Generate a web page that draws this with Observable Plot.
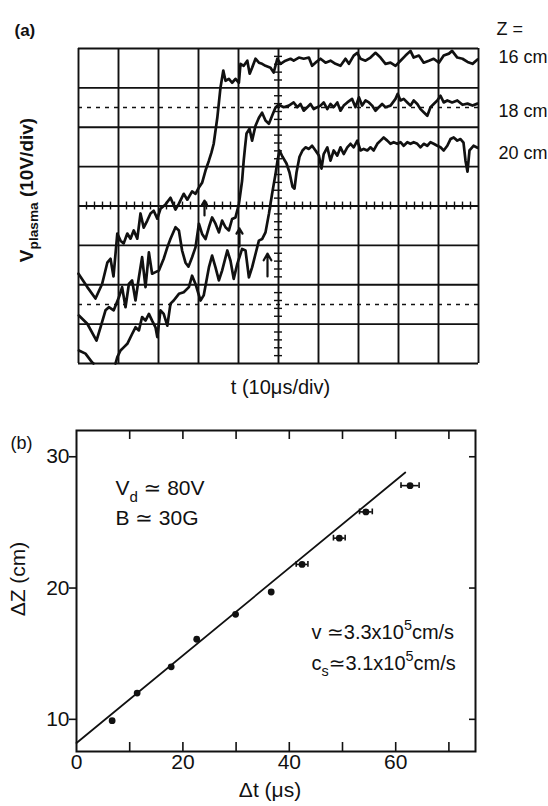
<!DOCTYPE html>
<html>
<head>
<meta charset="utf-8">
<script src="https://cdn.jsdelivr.net/npm/d3@7"></script>
<script src="https://cdn.jsdelivr.net/npm/@observablehq/plot@0.6"></script>
<style>
  html, body { margin: 0; padding: 0; background: #fff; }
  #chart svg { display: block; }
</style>
</head>
<body>
<div id="chart"></div>
<script>
// ---------- (a) plasma potential traces: [t (µs), V (volts above the screen bottom)] ----------
const trace16cm = [[0,22.8],[2.2,19.4],[4.25,16.5],[5.9,20.2],[7.2,25.6],[8,26.6],[8.75,22.1],[9.7,33],[10.5,31.2],[11.3,30.5],[12.2,33],[13,31.7],[13.8,33.8],[14.7,31.7],[15.5,38.1],[16.3,34.5],[17.2,36.3],[18,38.1],[18.8,38.8],[19.7,36.8],[20.5,39.3],[21.75,40.4],[23,42.1],[24.25,39.1],[25.1,40.6],[26.3,43.1],[27.2,41.6],[28.4,43.7],[29.25,43.1],[30.1,44.7],[30.9,45.9],[31.75,49],[32.6,51.5],[33.25,53.6],[33.8,55.8],[34.7,62.4],[35.5,70.1],[36.2,74.4],[36.75,71.8],[37.6,72.3],[38.4,71.3],[39.25,72.3],[40.1,71.3],[40.5,76.1],[41.3,75.6],[42.2,76.9],[42.8,73.6],[43.4,75.1],[44.25,77.4],[45.1,76.4],[45.9,76.1],[46.75,75.6],[48,75.1],[48.8,73.9],[49.7,77.4],[50.5,76.1],[51.75,76.9],[53,77.4],[53.8,76.9],[55.1,77.7],[56.3,77.4],[57.6,77.7],[58.4,75.6],[59.25,76.4],[60.5,77.4],[61.75,76.4],[63,76.9],[64.25,76.1],[65.5,75.6],[66.75,77.4],[67.6,76.1],[68.8,78.2],[69.7,78.9],[70.5,77.4],[71.75,76.9],[73,77.7],[74.25,78.9],[75.5,77.7],[76.75,76.1],[78,76.4],[79.25,75.6],[80.5,76.9],[81.75,78.2],[83,79.4],[83.8,77.7],[85.1,78.2],[86.3,76.4],[87.6,76.9],[88.8,77.4],[90.1,76.4],[91.3,78.2],[92.6,78.7],[93.4,79.4],[94.7,77.7],[96,77.4],[97.25,76.6],[98.5,76.1],[99.75,77.2]];

const trace18cm = [[0.1,12.2],[2.2,10.1],[4.5,5.8],[5.5,9.2],[6.75,13.5],[7.6,14.3],[8.8,13.5],[10.1,16.8],[10.9,19.4],[11.75,14.3],[12.6,20.2],[13.4,21.1],[14.25,16],[15.1,21.9],[15.9,27],[16.75,19.4],[17.6,28.2],[18.4,22.8],[19.25,23.2],[20.1,23.6],[21.3,26.6],[22.2,29.5],[23,31.7],[24.25,34.6],[25.1,33.8],[25.9,28.7],[26.75,25.6],[27.5,24.6],[28.4,27],[29.25,29.5],[30.1,35.5],[30.9,32.9],[31.75,31.6],[32.6,34.6],[33.4,37.1],[34.25,35.5],[35.1,33.3],[35.9,36.3],[36.75,34.6],[37.6,33.8],[38.4,36.7],[39.25,37.1],[40.1,40.5],[40.9,46.4],[41.3,51.5],[41.6,54.6],[42,58.4],[42.75,59.6],[43.4,56.6],[44.25,60.4],[45.1,62.4],[45.9,63.7],[46.75,61.7],[47.6,60.9],[48.4,62.9],[49.25,65],[50,65.7],[51.3,65.1],[52.6,65.5],[53.8,66.3],[54.7,65.1],[55.5,65.9],[56.3,64.2],[57.2,65.1],[58,65.9],[58.8,64.6],[59.7,65.1],[60.5,65.5],[61.3,66.3],[62.2,64.6],[63,65.9],[63.8,65.1],[64.7,66.3],[65.5,64.2],[66.3,65.5],[67.2,66.3],[68.4,67.2],[69.25,65.1],[70.1,67.6],[70.9,65.5],[71.75,66.8],[72.6,66.3],[73.4,65.5],[74.25,64.2],[75.1,65.1],[75.9,65.9],[76.75,65.1],[78,65.5],[79.25,67.2],[79.8,68.5],[80.5,66.8],[81.3,67.2],[82.2,66.3],[83,65.5],[83.8,66.8],[84.7,65.9],[85.5,64.6],[86.3,63.8],[87.2,62.9],[88,65.1],[88.8,65.9],[89.7,66.8],[90.5,68],[91.3,66.3],[92.2,66.8],[93.4,66.3],[94.7,66.8],[96,65.7],[97.25,66],[98.5,65.5],[99.75,66]];

// the 20 cm trace runs off the bottom of the screen for a while (NaN = break)
const trace20cm = [[0.1,3.3],[1.75,2.5],[3.4,0.3],[3.75,0],[6.5,NaN],[9.25,0],[9.7,1.6],[10.5,3.3],[11.3,4.1],[12.2,5],[13.4,7.5],[14.25,9.2],[15.1,8.4],[15.9,11.8],[16.75,10.9],[17.6,12.6],[18.4,10.9],[19.25,9.2],[19.7,6.7],[20.5,13.5],[21.3,12.6],[22.2,9.6],[23,15.2],[23.8,16],[25.1,17.7],[26.3,18.1],[27.6,19.4],[28.4,22.3],[29.25,20.2],[30.5,16],[31.3,17.3],[32.6,24.4],[33.4,27.4],[34.25,24.4],[35.1,21.1],[35.9,23.6],[37.2,28.7],[38,26.1],[38.8,21.5],[39.7,25.3],[40.9,29.1],[41.75,28.7],[42.6,21.9],[43.4,24.4],[44.25,27.8],[45.1,31.2],[45.9,31.6],[46.75,33.3],[47.6,38],[48.4,43.1],[49.25,48.1],[49.75,51.5],[50.25,54.1],[51,52.5],[52,50.8],[52.75,48.5],[53.5,44.9],[54,44.4],[54.5,48.5],[55.25,52.5],[56,54.1],[56.75,54.9],[57.6,54.5],[58.4,55.3],[59.25,54.1],[60.1,52.8],[60.75,49.5],[61.3,53.2],[62.2,54.9],[63,51.5],[63.8,54.1],[64.7,52.8],[65.5,54.9],[66.3,53.2],[67.2,54.9],[68,55.8],[68.8,54.9],[69.7,56.6],[70.5,54.1],[71.3,54.5],[72.2,54.1],[73,54.9],[73.8,54.1],[74.7,55.8],[75.5,56.6],[76.3,57.4],[77.2,56.6],[78,55.8],[78.8,56.2],[79.7,55.8],[80.5,56.2],[81.3,55.3],[82.2,56.2],[83,55.8],[83.8,56.2],[84.7,55.8],[85.5,54.9],[86.3,55.8],[87.2,55.3],[88,56.2],[88.8,55.8],[89.7,55.3],[90.5,54.9],[91.3,54.1],[92.2,55.3],[93,57],[93.8,57.4],[94.7,56.6],[95.5,57],[96.25,56.1],[96.75,51.5],[97.25,48.7],[97.75,54.1],[98.75,55.3],[99.75,54.8]];

// arrival markers (arrow tail / tip voltage at the marked time)
const arrivalT    = [31.5, 40.25, 47.25];
const arrivalFrom = [37.6, 29.7, 22.1];
const arrivalTo   = [41.4, 34.3, 27.9];

const probeLabels = ["16 cm", "18 cm", "20 cm"];
const probeLevels = [77.9, 64, 53.3];
const baselines   = [15, 65];          // dashed reference levels

// ---------- (b) time of flight vs probe separation ----------
const deltaT  = [6.7, 11.4, 17.8, 22.6, 29.9, 36.6, 42.4, 49.4, 54.4, 62.7];
const deltaZ  = [9.9, 12.0, 14.0, 16.1, 18.0, 19.7, 21.8, 23.8, 25.8, 27.8];
const tError  = [0, 0, 0, 0, 0, 0, 1.1, 1.1, 1.2, 1.7];
const fitT    = [0, 61.8];
const fitZ    = [8.2, 28.8];
const xTickLabels = [0, 20, 40, 60];
const yTickLabels = [10, 20, 30];

const FONT = "'Liberation Sans', 'DejaVu Sans', Arial, sans-serif";
const INK = "#111";

// turn _{...} and ^{...} into sub/superscript tspans
function applyScripts(svg) {
  for (const node of svg.querySelectorAll("text")) {
    const src = node.textContent;
    if (!/[_^]\{/.test(src)) continue;
    let el = node, size = NaN;
    while (el && el.getAttribute && isNaN(size)) {
      size = parseFloat(el.getAttribute("font-size"));
      el = el.parentNode;
    }
    if (isNaN(size)) size = 16;
    while (node.firstChild) node.removeChild(node.firstChild);
    const re = /([_^])\{([^}]*)\}|([^_^]+)/g;
    let m, shift = 0;
    while ((m = re.exec(src))) {
      const t = document.createElementNS("http://www.w3.org/2000/svg", "tspan");
      let target = 0;
      if (m[1]) {
        target = m[1] === "_" ? 0.3 * size : -0.42 * size;
        t.setAttribute("font-size", (0.72 * size).toFixed(1));
        t.textContent = m[2];
      } else {
        t.textContent = m[3];
      }
      if (target !== shift) { t.setAttribute("dy", (target - shift).toFixed(1)); shift = target; }
      node.appendChild(t);
    }
  }
}

const grid10 = d3.range(0, 101, 10);
const gridV = d3.range(0, 81, 10);
const minorT = d3.range(2, 100, 2).filter(d => d % 10);
const minorV = d3.range(2, 80, 2).filter(d => d % 10);

const plotA = Plot.plot({
  width: 548, height: 405,
  marginLeft: 78, marginRight: 70, marginTop: 48, marginBottom: 42,
  x: {domain: [0, 100], axis: null},
  y: {domain: [0, 80], axis: null},
  style: {fontFamily: FONT, background: "#fff", color: INK, overflow: "visible"},
  marks: [
    Plot.ruleX(grid10, {x: d => d, stroke: INK, strokeWidth: 1.9}),
    Plot.ruleY(gridV, {y: d => d, stroke: INK, strokeWidth: 1.9}),
    Plot.ruleY(baselines, {y: d => d, stroke: INK, strokeWidth: 1.6, strokeDasharray: "4 5"}),
    Plot.ruleX(minorT, {x: d => d, y1: d => 39, y2: d => 41, stroke: INK, strokeWidth: 1.4}),
    Plot.ruleY(minorV, {y: d => d, x1: d => 49, x2: d => 51, stroke: INK, strokeWidth: 1.4}),
    Plot.line(trace16cm, {x: d => d[0], y: d => d[1], stroke: INK, strokeWidth: 2.7, strokeLinejoin: "round"}),
    Plot.line(trace18cm, {x: d => d[0], y: d => d[1], stroke: INK, strokeWidth: 2.7, strokeLinejoin: "round"}),
    Plot.line(trace20cm, {x: d => d[0], y: d => d[1], stroke: INK, strokeWidth: 2.7, strokeLinejoin: "round"}),
    Plot.arrow(arrivalT, {x1: d => d, x2: d => d, y1: (d, i) => arrivalFrom[i], y2: (d, i) => arrivalTo[i],
      stroke: INK, strokeWidth: 2.2, headLength: 6}),
    Plot.text(probeLabels, {x: d => 100, y: (d, i) => probeLevels[i], text: d => d, dx: 20,
      textAnchor: "start", fontSize: 18, fill: INK}),
    Plot.text(["Z ="], {x: d => 100, y: d => 85, text: d => d, dx: 18, textAnchor: "start", fontSize: 18, fill: INK}),
    Plot.text(["(a)"], {frameAnchor: "top-left", text: d => d, dx: -64, dy: -25, textAnchor: "start",
      fontSize: 17, fontWeight: "bold", fill: INK}),
    Plot.text(["t (10μs/div)"], {frameAnchor: "bottom", text: d => d, dx: 2, dy: 30, fontSize: 20, fill: INK,
      letterSpacing: 1.2}),
    Plot.text(["V_{plasma} (10V/div)"], {frameAnchor: "left", textAnchor: "middle", text: d => d, rotate: -90,
      dx: -52, dy: -16, fontSize: 19, fontWeight: "bold", fill: INK})
  ]
});

const frameH = 401 - 25 - 55;
const frameW = 548 - 76 - 73;
const pts = deltaT.map((t, i) => ({t, z: deltaZ[i], e: tError[i]}));
const errPts = pts.filter(d => d.e > 0);
const fit = fitT.map((t, i) => ({t, z: fitZ[i]}));

const plotB = Plot.plot({
  width: 548, height: 401,
  marginLeft: 76, marginRight: 73, marginTop: 25, marginBottom: 55,
  x: {domain: [0, 75], axis: null},
  y: {domain: [7.55, 32], axis: null},
  style: {fontFamily: FONT, background: "#fff", color: INK, overflow: "visible"},
  marks: [
    Plot.frame({stroke: INK, strokeWidth: 2}),
    Plot.ruleX(d3.range(10, 71, 10), {x: d => d, insetTop: frameH - 9, stroke: INK, strokeWidth: 1.6}),
    Plot.ruleX(d3.range(10, 71, 10), {x: d => d, insetBottom: frameH - 9, stroke: INK, strokeWidth: 1.6}),
    Plot.ruleY(yTickLabels, {y: d => d, insetLeft: -7, insetRight: frameW, stroke: INK, strokeWidth: 1.6}),
    Plot.ruleY(yTickLabels, {y: d => d, insetLeft: frameW - 6, stroke: INK, strokeWidth: 1.6}),
    Plot.text(yTickLabels, {y: d => d, frameAnchor: "left", text: d => String(d), dx: -7, textAnchor: "end",
      fontSize: 21, fill: INK}),
    Plot.text(xTickLabels, {x: d => d, frameAnchor: "bottom", text: d => String(d), dy: 17, fontSize: 21, fill: INK}),
    Plot.line(fit, {x: "t", y: "z", stroke: INK, strokeWidth: 1.8}),
    Plot.ruleY(errPts, {y: "z", x1: d => d.t - d.e, x2: d => d.t + d.e, stroke: INK, strokeWidth: 1.6}),
    Plot.ruleX(errPts, {x: d => d.t - d.e, y1: d => d.z - 0.22, y2: d => d.z + 0.22, stroke: INK, strokeWidth: 1.6}),
    Plot.ruleX(errPts, {x: d => d.t + d.e, y1: d => d.z - 0.22, y2: d => d.z + 0.22, stroke: INK, strokeWidth: 1.6}),
    Plot.dot(pts, {x: "t", y: "z", r: 3.4, fill: INK, stroke: "none"}),
    Plot.text(["(b)"], {frameAnchor: "top-left", text: d => d, dx: -66, dy: 6, textAnchor: "start", fontSize: 18, fill: INK}),
    Plot.text(["V_{d} ≃ 80V"], {frameAnchor: "top-left", text: d => d, dx: 39, dy: 50, textAnchor: "start", fontSize: 21, fill: INK}),
    Plot.text(["B ≃ 30G"], {frameAnchor: "top-left", text: d => d, dx: 39, dy: 80, textAnchor: "start", fontSize: 21, fill: INK}),
    Plot.text(["v ≃3.3x10^{5}cm/s"], {frameAnchor: "top-left", text: d => d, dx: 235, dy: 194, textAnchor: "start", fontSize: 20, fill: INK}),
    Plot.text(["c_{s}≃3.1x10^{5}cm/s"], {frameAnchor: "top-left", text: d => d, dx: 235, dy: 225, textAnchor: "start", fontSize: 20, fill: INK}),
    Plot.text(["ΔZ (cm)"], {frameAnchor: "left", textAnchor: "middle", text: d => d, rotate: -90, dx: -58, dy: -12, fontSize: 21, fill: INK}),
    Plot.text(["Δt (μs)"], {frameAnchor: "bottom", text: d => d, dx: -6, dy: 45, fontSize: 21, fill: INK})
  ]
});

applyScripts(plotA);
applyScripts(plotB);
document.getElementById("chart").append(plotA, plotB);
</script>
</body>
</html>
